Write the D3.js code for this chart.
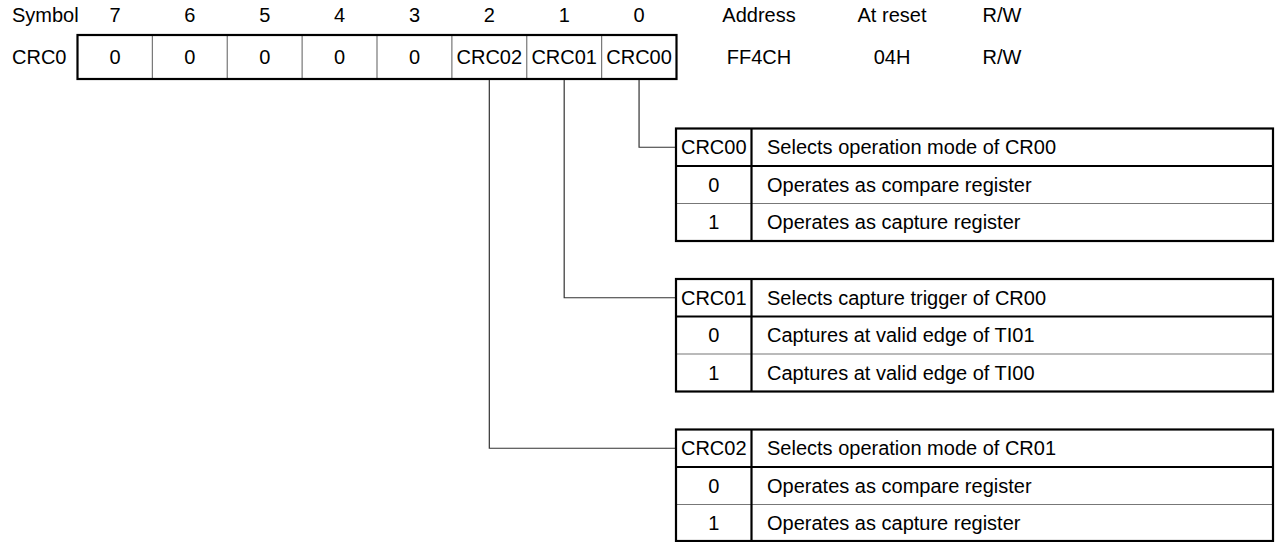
<!DOCTYPE html>
<html><head><meta charset="utf-8">
<script src="https://cdn.jsdelivr.net/npm/d3@7"></script>
<style>
html,body{margin:0;padding:0;background:#fff;}
text{font-family:"Liberation Sans",Arial,sans-serif;font-size:20px;fill:#000;}
</style></head>
<body><svg id="c" width="1277" height="542"></svg>
<script>
const bits = [7,6,5,4,3,2,1,0];
const bitValues = ["0","0","0","0","0","CRC02","CRC01","CRC00"];
const regName = "CRC0";
const headerLabels = ["Address","At reset","R/W"];
const headerValues = ["FF4CH","04H","R/W"];
const tableBits = ["CRC00","CRC01","CRC02"];
const tableTitles = ["Selects operation mode of CR00","Selects capture trigger of CR00","Selects operation mode of CR01"];
const tableRow0 = ["Operates as compare register","Captures at valid edge of TI01","Operates as compare register"];
const tableRow1 = ["Operates as capture register","Captures at valid edge of TI00","Operates as capture register"];

const svg = d3.select("#c");
const x = d3.scaleBand().domain(bits).range([77.5, 676.5]);
const boxTop = 35, boxBot = 79;
const headY = 15, rowY = 57;

// header
svg.append("text").attr("x",12).attr("y",headY).attr("dy","0.35em").text("Symbol");
svg.append("text").attr("x",12).attr("y",rowY).attr("dy","0.35em").text(regName);
svg.selectAll(".bitlab").data(bits).join("text")
  .attr("x",d=>x(d)+x.bandwidth()/2).attr("y",headY).attr("dy","0.35em")
  .attr("text-anchor","middle").text(d=>d);
svg.selectAll(".bitval").data(bitValues).join("text")
  .attr("x",(d,i)=>x(bits[i])+x.bandwidth()/2).attr("y",rowY).attr("dy","0.35em")
  .attr("text-anchor","middle").text(d=>d);
const colX = d3.scalePoint().domain(headerLabels).range([759, 1002]);
const colPos = [759, 892, 1002];
headerLabels.forEach((l,i)=>{
  svg.append("text").attr("x",colPos[i]).attr("y",headY).attr("dy","0.35em").attr("text-anchor","middle").text(l);
  svg.append("text").attr("x",colPos[i]).attr("y",rowY).attr("dy","0.35em").attr("text-anchor","middle").text(headerValues[i]);
});
// register dividers
svg.selectAll(".div").data(bits.slice(1)).join("line")
  .attr("x1",d=>x(d)).attr("x2",d=>x(d)).attr("y1",boxTop).attr("y2",boxBot)
  .attr("stroke","#777").attr("stroke-width",1.2);
svg.append("rect").attr("x",77.5).attr("y",boxTop).attr("width",599).attr("height",boxBot-boxTop)
  .attr("fill","none").attr("stroke","#000").attr("stroke-width",2.2);

// tables
const tL = 676, tC = 751.5, tR = 1273, rh = 37.5;
const tTop = d3.scaleLinear().domain([0,1]).range([128.5, 279]);
tableBits.forEach((b,i)=>{
  const top = tTop(i);
  const bitIdx = bitValues.indexOf(b);
  const cx = x(bits[bitIdx]) + x.bandwidth()/2;
  const cy = top + rh/2;
  svg.append("path").attr("d",`M${cx},${boxBot+1}V${cy}H${tL}`)
    .attr("fill","none").attr("stroke","#333").attr("stroke-width",1.2);
  const rows = [[b,tableTitles[i]],["0",tableRow0[i]],["1",tableRow1[i]]];
  rows.forEach((r,j)=>{
    const y = top + rh*j + rh/2;
    svg.append("text").attr("x",(tL+tC)/2).attr("y",y).attr("dy","0.35em").attr("text-anchor","middle").text(r[0]);
    svg.append("text").attr("x",767).attr("y",y).attr("dy","0.35em").text(r[1]);
  });
  svg.append("line").attr("x1",tL).attr("x2",tR).attr("y1",top+rh*2).attr("y2",top+rh*2).attr("stroke","#777").attr("stroke-width",1.2);
  svg.append("line").attr("x1",tL).attr("x2",tR).attr("y1",top+rh).attr("y2",top+rh).attr("stroke","#000").attr("stroke-width",2.2);
  svg.append("line").attr("x1",tC).attr("x2",tC).attr("y1",top).attr("y2",top+rh*3).attr("stroke","#000").attr("stroke-width",2.2);
  svg.append("rect").attr("x",tL).attr("y",top).attr("width",tR-tL).attr("height",Math.min(rh*3, 541-top))
    .attr("fill","none").attr("stroke","#000").attr("stroke-width",2.2);
});
</script></body></html>
